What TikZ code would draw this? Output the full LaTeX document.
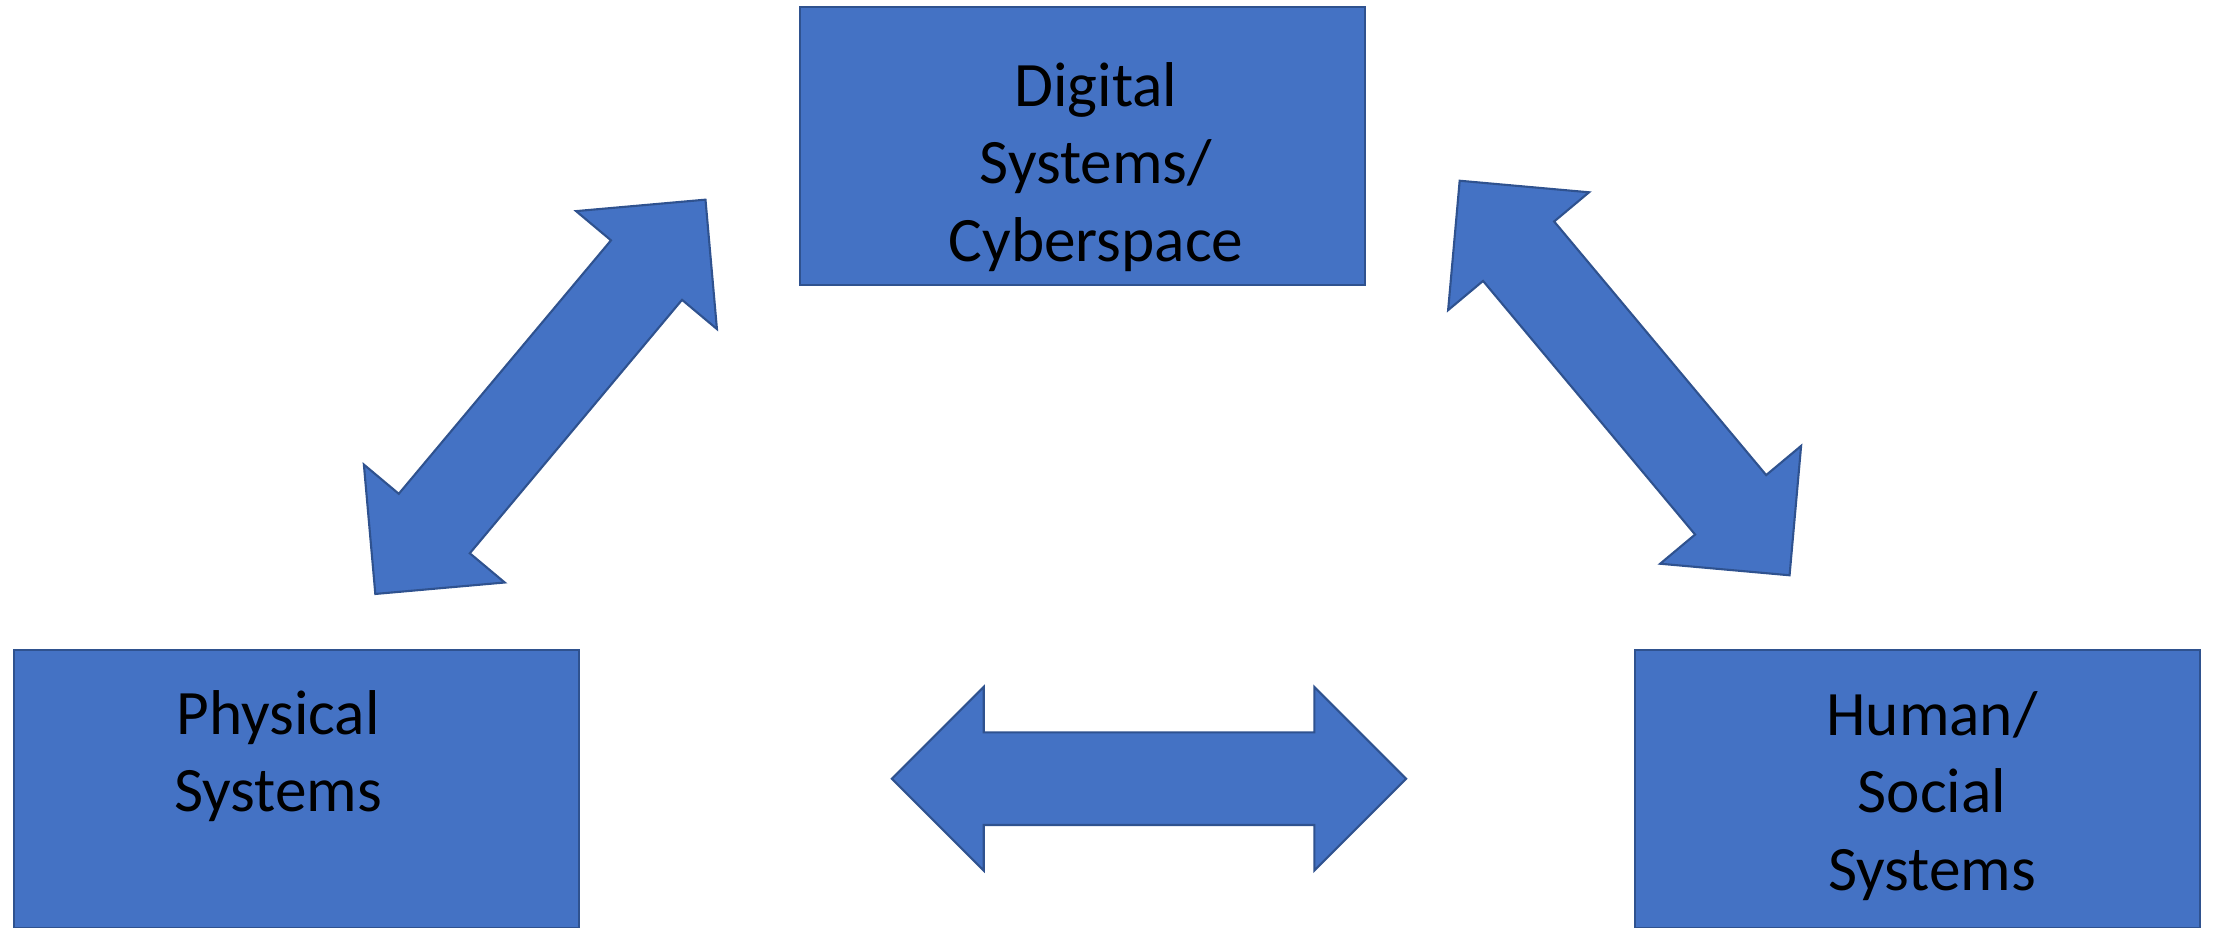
\documentclass[tikz,border=0pt]{standalone}
\usepackage{fontspec}
\setmainfont{Carlito}
\usetikzlibrary{shapes.arrows}

\definecolor{boxblue}{HTML}{4472C4}
\definecolor{boxedge}{HTML}{2F528F}

\tikzset{
  sysbox/.style={rectangle, draw=boxedge, fill=boxblue, line width=0.6pt,
    minimum width=5.65cm, minimum height=2.78cm, inner sep=0pt},
  systext/.style={align=center, text=black, font=\fontsize{18}{22}\selectfont},
  linkarrow/.style={double arrow, draw=boxedge, fill=boxblue, line width=0.6pt,
    double arrow tip angle=90, double arrow head extend=0.455cm,
    minimum height=5.14cm, inner xsep=0pt, inner ysep=0.4525cm}
}

\begin{document}
\begin{tikzpicture}[x=0.01cm,y=-0.01cm]

%Frame
\useasboundingbox (0,0) rectangle (2216,927);
\clip (0,0) rectangle (2216,927);

%Systems
\node[sysbox] (digital) at (1082.5,146) {};
\node[sysbox] (physical) at (296.5,789) {};
\node[sysbox] (human) at (1917.5,789) {};

%Labels
\node[systext] (digital-text) at (1096,167) {Digital\\Systems/\\Cyberspace};
\node[systext] (physical-text) at (278,756) {Physical\\Systems};
\node[systext] (human-text) at (1932,796) {Human/\\Social\\Systems};

%Arrows
\node[linkarrow, rotate=50.06] (phys-dig) at (540.4,396.8) {};
\node[linkarrow, rotate=-50.1] (dig-hum) at (1624.6,378) {};
\node[linkarrow] (phys-hum) at (1149,778.7) {};
\end{tikzpicture}
\end{document}
